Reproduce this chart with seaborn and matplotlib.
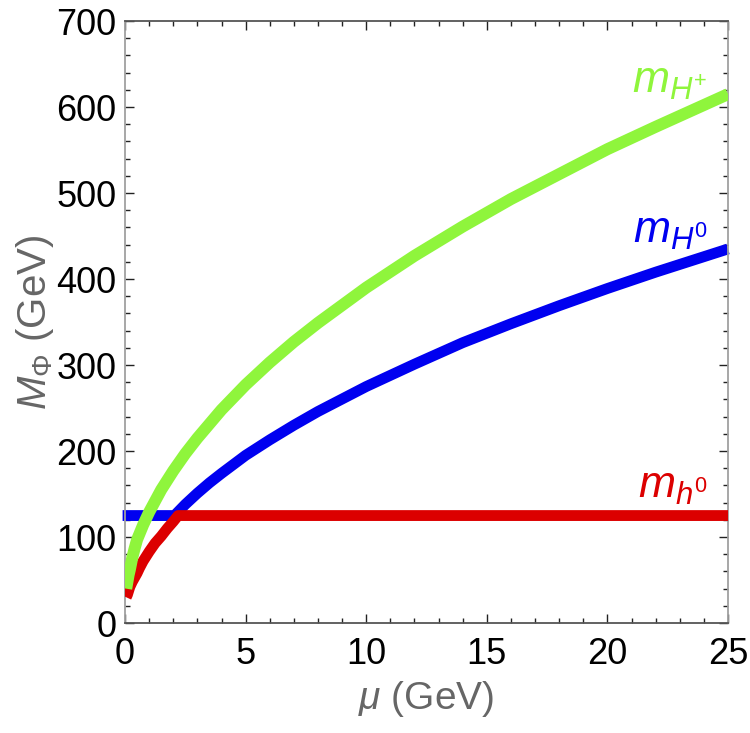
import numpy as np
import pandas as pd
import matplotlib
matplotlib.use("Agg")
import matplotlib.pyplot as plt
import seaborn as sns
from matplotlib.ticker import MultipleLocator

# ---------------- data ----------------
mu_Hp = [0.05, 0.1, 0.15, 0.2, 0.3, 0.4, 0.5, 0.75, 1, 1.25, 1.5, 2, 2.5, 3,
         4, 5, 6, 7, 8, 10, 12, 14, 16, 18, 20, 22, 25]
m_Hp = [40, 48, 56, 62, 76, 87, 97, 114, 129, 142, 155, 177, 197, 215, 248,
        277, 303, 327, 349, 390, 427, 461, 493, 522, 551, 577, 615]

mu_H0 = [-0.1, 1, 2.05, 2.5, 3, 3.5, 4, 5, 6, 7, 8, 10, 12, 14, 16, 18, 20,
         22, 25]
m_H0 = [125, 125, 125, 138, 151, 163, 174, 195, 213, 230, 246, 275, 301, 326,
        348, 369, 389, 408, 435]

mu_h0 = [0.05, 0.1, 0.2, 0.3, 0.4, 0.5, 0.6, 0.75, 1, 1.25, 1.5, 1.75, 2, 2.2,
         5, 10, 15, 20, 25]
m_h0 = [30, 33, 42, 48, 53, 58, 64, 72, 83, 93, 101, 110, 118, 125, 125, 125,
        125, 125, 125]

labels = [r"$m_{H^{+}}$", r"$m_{H^{0}}$", r"$m_{h^{0}}$"]
label_pos = [(24.15, 617), (24.15, 442), (24.15, 146)]

GREEN = "#8ff53c"
BLUE = "#0000f0"
RED = "#dc0000"

# ---------------- style ----------------
sns.set_style("ticks")
plt.rcParams["font.family"] = ["Liberation Sans", "DejaVu Sans"]
plt.rcParams["mathtext.fontset"] = "custom"
plt.rcParams["mathtext.rm"] = "Liberation Sans"
plt.rcParams["mathtext.it"] = "Liberation Sans:italic"
plt.rcParams["mathtext.bf"] = "Liberation Sans:bold"

fig = plt.figure(figsize=(7.5, 7.33), dpi=100)
ax = fig.add_axes([0.1667, 0.150, 0.804, 0.8213])

df_Hp = pd.DataFrame({"mu": mu_Hp, "m": m_Hp})
df_H0 = pd.DataFrame({"mu": mu_H0, "m": m_H0})
df_h0 = pd.DataFrame({"mu": mu_h0, "m": m_h0})

# drawing order: blue under red under green
sns.lineplot(data=df_H0, x="mu", y="m", color=BLUE, lw=7.8, ax=ax,
             estimator=None, solid_capstyle="butt", zorder=2, clip_on=False)
sns.lineplot(data=df_h0, x="mu", y="m", color=RED, lw=7.8, ax=ax,
             estimator=None, solid_capstyle="butt", zorder=3)
sns.lineplot(data=df_Hp, x="mu", y="m", color=GREEN, lw=8.6, ax=ax,
             estimator=None, solid_capstyle="butt", zorder=4)

for txt, (x, y), c in zip(labels, label_pos, [GREEN, BLUE, RED]):
    ax.text(x, y, txt, color=c, fontsize=32, ha="right", va="baseline")

ax.set_xlim(0, 25)
ax.set_ylim(0, 700)
ax.xaxis.set_major_locator(MultipleLocator(5))
ax.xaxis.set_minor_locator(MultipleLocator(1))
ax.yaxis.set_major_locator(MultipleLocator(100))
ax.yaxis.set_minor_locator(MultipleLocator(20))

ax.tick_params(which="both", direction="in", top=True, right=True,
               color="#222222", width=1.0)
ax.tick_params(which="major", length=6.5, labelsize=26, labelcolor="black")
ax.tick_params(axis="x", which="major", pad=10)
ax.tick_params(axis="y", which="major", pad=6)
ax.tick_params(which="minor", length=3.8)

for side in ["left", "right"]:
    ax.spines[side].set_color("#a0a0a0")
    ax.spines[side].set_linewidth(1.3)
for side in ["top", "bottom"]:
    ax.spines[side].set_color("#555555")
    ax.spines[side].set_linewidth(1.3)

ax.set_xlabel(r"$\mu$ (GeV)", fontsize=28, color="#666666", labelpad=5)
ax.set_ylabel(r"$M_{\Phi}$ (GeV)", fontsize=29, color="#666666", labelpad=0)

fig.savefig("out.png", dpi=100)
